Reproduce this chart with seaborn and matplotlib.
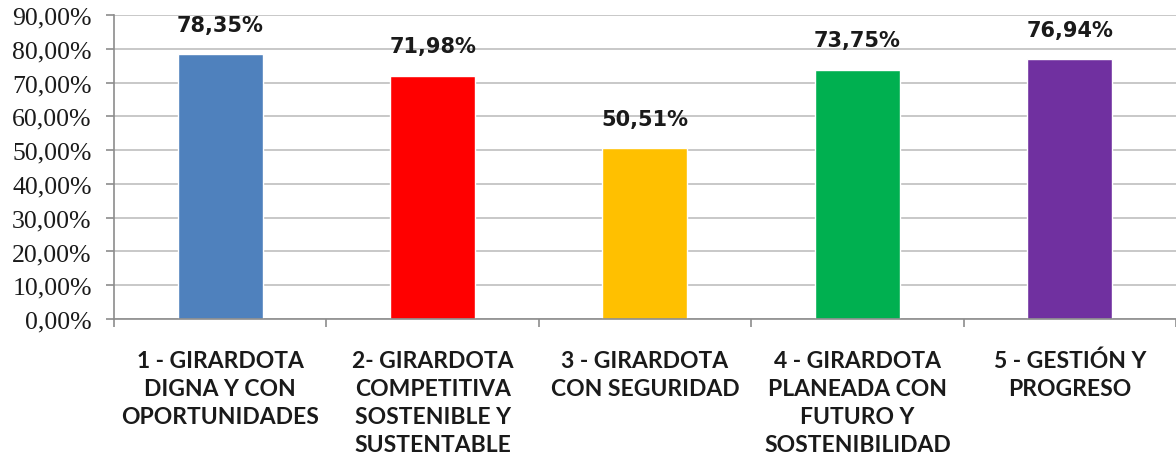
import pandas as pd
import seaborn as sns
import matplotlib.pyplot as plt
from matplotlib.ticker import FuncFormatter, FixedLocator

# Data
categories = [
    "1 - GIRARDOTA\nDIGNA Y CON\nOPORTUNIDADES",
    "2- GIRARDOTA\nCOMPETITIVA\nSOSTENIBLE Y\nSUSTENTABLE",
    "3 - GIRARDOTA\nCON SEGURIDAD",
    "4 - GIRARDOTA\nPLANEADA CON\nFUTURO Y\nSOSTENIBILIDAD",
    "5 - GESTIÓN Y\nPROGRESO",
]
values = [78.35, 71.98, 50.51, 73.75, 76.94]
colors = ["#4F81BD", "#FF0000", "#FFC000", "#00B050", "#7030A0"]

df = pd.DataFrame({"Eje": categories, "Avance": values})

sns.set_theme(style="white")
plt.rcParams['font.family'] = ['Lato', 'DejaVu Sans']

fig = plt.figure(figsize=(11.76, 4.64), dpi=100)
ax = fig.add_axes([0.0969, 0.3103, 0.9031, 0.6552])

sns.barplot(data=df, x="Eje", y="Avance", hue="Eje", palette=colors,
            width=0.4, legend=False, ax=ax, saturation=1)

ax.set_ylim(0, 90)
ax.set_xlim(-0.5, 4.5)
ax.yaxis.set_major_locator(FixedLocator(range(0, 91, 10)))
ax.yaxis.set_major_formatter(FuncFormatter(lambda v, p: f"{v:.2f}".replace('.', ',') + '%'))
ax.grid(axis='y', color='#BFBFBF', linewidth=1.2)
ax.set_axisbelow(True)

for s in ['top', 'right']:
    ax.spines[s].set_visible(False)
for s in ['left', 'bottom']:
    ax.spines[s].set_color('#8C8C8C')
    ax.spines[s].set_linewidth(1.2)

# y labels in a serif face
for lab in ax.get_yticklabels():
    lab.set_family(['Liberation Serif', 'DejaVu Serif'])
    lab.set_fontsize(18.5)
    lab.set_color('#1a1a1a')
ax.tick_params(axis='y', length=6, color='#8C8C8C', width=1.2, pad=10, left=True)

# category labels centred, ticks at the boundaries
ax.tick_params(axis='x', which='major', length=0, pad=22)
ax.set_xticks(range(len(categories)))
ax.set_xticklabels(categories, fontsize=16.5, fontweight='bold', linespacing=1.42,
                   color='#1a1a1a', va='top')
ax.set_xticks([i - 0.5 for i in range(len(categories) + 1)], minor=True)
ax.tick_params(axis='x', which='minor', length=6, color='#8C8C8C', width=1.2, bottom=True)

ax.set_xlabel('')
ax.set_ylabel('')

# value labels above the bars
for i, v in enumerate(values):
    ax.annotate(f"{v:.2f}".replace('.', ',') + '%', (i, v), xytext=(0, 14),
                textcoords='offset points', ha='center', va='bottom',
                fontsize=15, fontweight='bold', color='#1a1a1a',
                family=['DejaVu Sans'])

plt.savefig('out.png', dpi=100)
